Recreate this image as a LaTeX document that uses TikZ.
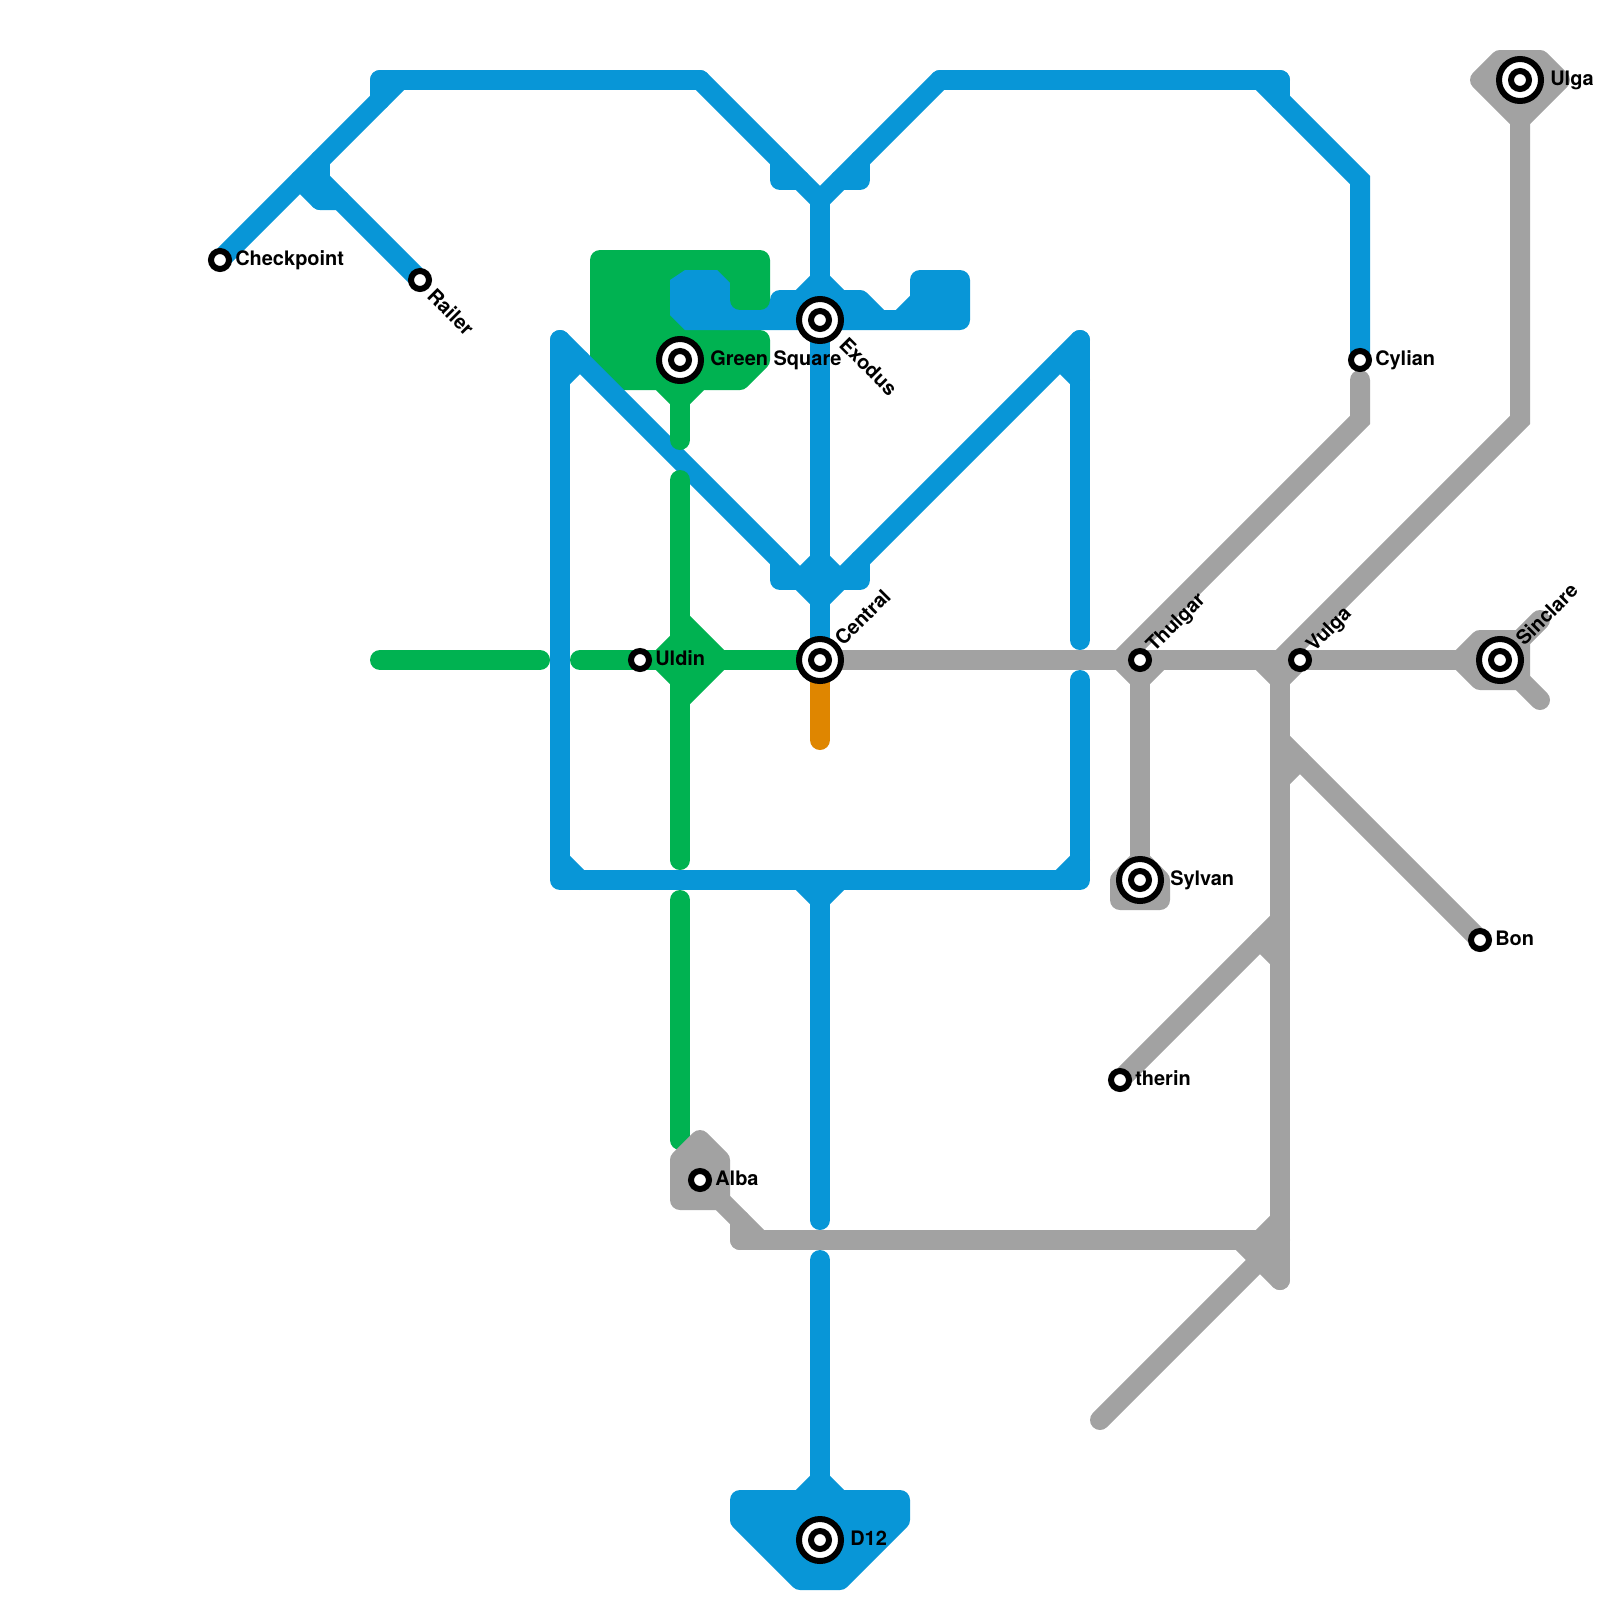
\documentclass[tikz,border=0pt]{standalone}
\usepackage{fontspec}
\setmainfont{TeX Gyre Heros}
\definecolor{metroblue}{HTML}{0896D7}
\definecolor{metrogreen}{HTML}{00B251}
\definecolor{metrogrey}{HTML}{A2A2A2}
\definecolor{metroorange}{HTML}{DF8600}

\begin{document}
\begin{tikzpicture}[x=0.5cm, y=-0.5cm]
  % one grid step is 20 px of the map, y runs downwards
  \tikzset{
    track/.style={line width=0.5cm, line cap=round, line join=miter},
    stub/.style={line width=0.5cm, line cap=round, line join=round},
    blob/.style={line width=0.5cm, line join=round},
    hubring/.style={circle, draw=black, fill=white, line width=0.15cm, minimum size=1.05cm, inner sep=0pt},
    stopdot/.style={circle, draw=black, fill=white, line width=0.15cm, minimum size=0.45cm, inner sep=0pt},
    lbl/.style={font=\fontsize{14.2pt}{14.2pt}\selectfont\bfseries, text=black, anchor=west, inner sep=0pt,
      text height=0.36cm, text depth=0pt}}

  \useasboundingbox (0,0) rectangle (80,80);

  % ---- 1. green block, under the blue bar ---------------------------------
  \filldraw[blob, metrogreen] (30,13) -- (38,13) -- (38,15) -- (34,15) -- (34,17) -- (38,17)
    -- (38,18) -- (37,19) -- (35,19) -- (34,20) -- (33,19) -- (31,19) -- (30,18) -- cycle;

  % ---- 2. blue ------------------------------------------------------------
  \foreach \a/\b in {19/35,47/64}{
    \draw[track, metroblue] (\a,4) -- (\b,4);}
  \draw[track, metroblue] (19,4) -- (19,5);
  \draw[track, metroblue] (64,4) -- (64,5);
  \draw[track, metroblue] (11,13) -- (20,4);
  \draw[track, metroblue] (16,9) -- (21,14);
  \draw[track, metroblue] (16,8) -- (16,10);
  \draw[stub, metroblue] (15,9) -- (16,10) -- (17,10);
  \draw[track, metroblue] (35,4) -- (41,10) -- (47,4);
  \draw[stub, metroblue] (39,8) -- (39,9) -- (40,9);
  \draw[stub, metroblue] (43,8) -- (43,9) -- (42,9);
  \draw[track, metroblue] (63,4) -- (68,9) -- (68,18);
  \draw[track, metroblue] (41,10) -- (41,33);
  \draw[track, metroblue] (40,15) -- (41,14) -- (42,15);
  % the bar through Exodus
  \filldraw[blob, metroblue] (39,15) -- (43,15) -- (44,16) -- (45,16) -- (46,15) -- (46,14)
    -- (48,14) -- (48,16) -- (36,16) -- (36,15.5) -- (39,15.5) -- cycle;
  \fill[metroblue] (33.5,14) -- (34.25,13.5) -- (35.85,13.5) -- (36.5,14.15) -- (36.5,16.5)
    -- (34.25,16.5) -- (33.5,15.75) -- cycle;
  % the box
  \draw[track, metroblue] (28,17) -- (41,30);
  \draw[track, metroblue] (54,17) -- (41,30);
  \draw[stub, metroblue] (28,17) -- (28,44) -- (54,44) -- (54,34);
  \draw[track, metroblue] (54,17) -- (54,32);
  \draw[track, metroblue] (28,19) -- (29,18);
  \draw[track, metroblue] (54,19) -- (53,18);
  \draw[track, metroblue] (28,43) -- (29,44);
  \draw[track, metroblue] (54,43) -- (53,44);
  \draw[stub, metroblue] (39,28) -- (39,29) -- (43,29) -- (43,28);
  \draw[track, metroblue] (40,29) -- (41,28) -- (42,29);
  % south from the box
  \draw[track, metroblue] (40,44) -- (41,45) -- (42,44);
  \draw[track, metroblue] (41,44) -- (41,61);
  \draw[track, metroblue] (41,63) -- (41,75);
  \draw[track, metroblue] (40,75) -- (41,74) -- (42,75);
  \filldraw[blob, metroblue] (37,75) -- (45,75) -- (45,76) -- (42,79) -- (40,79) -- (37,76) -- cycle;

  % ---- 3. green -----------------------------------------------------------
  \filldraw[blob, metrogreen] (37,14) -- (38,14) -- (38,15) -- (37,15) -- cycle;
  \foreach \a/\b in {18/22,24/43,45/57}{
    \draw[track, metrogreen] (34,\a) -- (34,\b);}
  \draw[track, metrogreen] (19,33) -- (27,33);
  \draw[track, metrogreen] (29,33) -- (41,33);
  \filldraw[blob, metrogreen] (34,31) -- (36,33) -- (34,35) -- (34,34) -- (33,33) -- (34,32) -- cycle;

  % ---- 4. orange ----------------------------------------------------------
  \draw[track, metroorange] (41,33) -- (41,37);

  % ---- 5. grey ------------------------------------------------------------
  \draw[track, metrogrey] (41,33) -- (75,33);
  \draw[track, metrogrey] (68,19) -- (68,21) -- (56,33);
  \draw[track, metrogrey] (56,33) -- (57,34) -- (58,33);
  \draw[track, metrogrey] (57,33) -- (57,44);
  \filldraw[blob, metrogrey] (57,43) -- (58,44) -- (58,45) -- (56,45) -- (56,44) -- cycle;
  \draw[track, metrogrey] (76,4) -- (76,21) -- (64,33);
  \draw[track, metrogrey] (63,33) -- (64,34) -- (65,33);
  \draw[track, metrogrey] (64,33) -- (64,64);
  \draw[track, metrogrey] (64,37) -- (74,47);
  \draw[track, metrogrey] (64,39) -- (65,38);
  \draw[track, metrogrey] (56,54) -- (64,46);
  \draw[track, metrogrey] (63,47) -- (64,48);
  \draw[track, metrogrey] (62,62) -- (64,64);
  \draw[track, metrogrey] (63,62) -- (64,61);
  \draw[track, metrogrey] (55,71) -- (64,62);
  \filldraw[blob, metrogrey] (74,4) -- (75,3) -- (77,3) -- (78,4) -- (76,6) -- cycle;
  \filldraw[blob, metrogrey] (73,33) -- (74,32) -- (76,32) -- (76,34) -- (74,34) -- cycle;
  \draw[track, metrogrey] (76,32) -- (77,31);
  \draw[track, metrogrey] (76,34) -- (77,35);
  \filldraw[blob, metrogrey] (35,57) -- (36,58) -- (36,60) -- (34,60) -- (34,58) -- cycle;
  \draw[track, metrogrey] (36,60) -- (38,62);
  \draw[track, metrogrey] (37,61) -- (37,62);
  \draw[track, metrogrey] (37,62) -- (64,62);

  % ---- 6. stations --------------------------------------------------------
  \foreach \n/\x/\y in {greensquare/34/18,exodus/41/16,central/41/33,sylvan/57/44,ulga/76/4,sinclare/75/33,dtwelve/41/77}{
    \node[hubring] (\n) at (\x,\y) {};
    \node[stopdot] (\n core) at (\n) {};}
  \foreach \n/\x/\y in {checkpoint/11/13,railer/21/14,cylian/68/18,uldin/32/33,thulgar/57/33,vulga/65/33,bon/74/47,therin/56/54,alba/35/59}{
    \node[stopdot] (\n) at (\x,\y) {};}

  % ---- 7. names -----------------------------------------------------------
  \node[lbl] (checkpoint name) at (11.75,12.9) {Checkpoint};
  \node[lbl, rotate=-45] (railer name) at (21.55,14.6) {Railer};
  \node[lbl] (greensquare name) at (35.5,17.9) {Green Square};
  \node[lbl, rotate=-45] (exodus name) at (42.15,17.05) {Exodus};
  \node[lbl] (cylian name) at (68.75,17.9) {Cylian};
  \node[lbl] (uldin name) at (32.75,32.9) {Uldin};
  \node[lbl, rotate=45] (central name) at (41.9,32.1) {Central};
  \node[lbl, rotate=45] (thulgar name) at (57.45,32.4) {Thulgar};
  \node[lbl, rotate=45] (vulga name) at (65.45,32.4) {Vulga};
  \node[lbl, rotate=45] (sinclare name) at (75.95,32.1) {Sinclare};
  \node[lbl] (sylvan name) at (58.5,43.9) {Sylvan};
  \node[lbl] (ulga name) at (77.5,3.9) {Ulga};
  \node[lbl] (bon name) at (74.75,46.9) {Bon};
  \node[lbl] (therin name) at (56.75,53.9) {therin};
  \node[lbl] (alba name) at (35.75,58.9) {Alba};
  \node[lbl] (dtwelve name) at (42.5,76.9) {D12};
\end{tikzpicture}
\end{document}
